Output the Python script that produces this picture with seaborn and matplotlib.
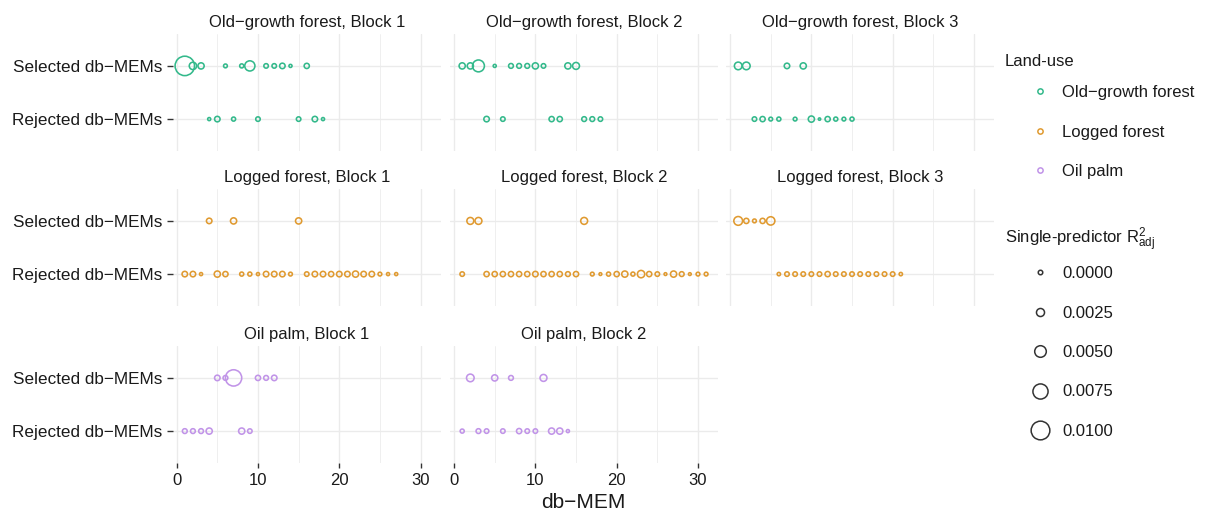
import matplotlib
matplotlib.use("Agg")
import matplotlib.pyplot as plt
from matplotlib.lines import Line2D
import numpy as np
import pandas as pd
import seaborn as sns

# ---- categories -------------------------------------------------------------
land_uses = ["Old−growth forest", "Logged forest", "Oil palm"]
land_colors = ["#33B98B", "#E09A30", "#C194E8"]
status_levels = ["Rejected db−MEMs", "Selected db−MEMs"]

# ---- db-MEM indices and single-predictor adjusted R2, per land-use block ----
# Old-growth forest, Block 1
og1_sel_mem = [1, 2, 3, 6, 8, 9, 11, 12, 13, 14, 16]
og1_sel_r2 = [0.0105, 0.0020, 0.0012, -0.0005, -0.0003, 0.0040, 0.0000, 0.0000, 0.0007, -0.0010, 0.0005]
og1_rej_mem = [4, 5, 7, 10, 15, 17, 18]
og1_rej_r2 = [-0.0010, 0.0007, -0.0003, 0.0000, 0.0000, 0.0007, -0.0010]

# Old-growth forest, Block 2
og2_sel_mem = [1, 2, 3, 5, 7, 8, 9, 10, 11, 14, 15]
og2_sel_r2 = [0.0012, 0.0012, 0.0052, -0.0010, 0.0002, 0.0002, 0.0002, 0.0012, 0.0000, 0.0012, 0.0017]
og2_rej_mem = [4, 6, 12, 13, 16, 17, 18]
og2_rej_r2 = [0.0007, 0.0000, 0.0005, 0.0005, 0.0002, 0.0002, 0.0000]

# Old-growth forest, Block 3
og3_sel_mem = [1, 2, 7, 9]
og3_sel_r2 = [0.0022, 0.0022, 0.0007, 0.0012]
og3_rej_mem = [3, 4, 5, 6, 8, 10, 11, 12, 13, 14, 15]
og3_rej_r2 = [0.0000, 0.0005, -0.0005, -0.0003, -0.0005, 0.0012, -0.0015, 0.0005, -0.0003, -0.0005, -0.0003]

# Logged forest, Block 1
lf1_sel_mem = [4, 7, 15]
lf1_sel_r2 = [0.0007, 0.0012, 0.0012]
lf1_rej_mem = [1, 2, 3, 5, 6, 8, 9, 10, 11, 12, 13, 14, 16, 17, 18, 19, 20, 21, 22, 23, 24, 25, 26, 27]
lf1_rej_r2 = [0.0007, 0.0007, -0.0010, 0.0012, 0.0005, -0.0003, -0.0003, -0.0010, 0.0007, 0.0007,
              0.0007, -0.0005, 0.0000, 0.0007, 0.0007, 0.0005, 0.0007, 0.0007, 0.0012, 0.0007,
              0.0007, -0.0005, -0.0010, -0.0010]

# Logged forest, Block 2
lf2_sel_mem = [2, 3, 16]
lf2_sel_r2 = [0.0017, 0.0017, 0.0017]
lf2_rej_mem = [1, 4, 5, 6, 7, 8, 9, 10, 11, 12, 13, 14, 15, 17, 18, 19, 20, 21, 22, 23, 24, 25, 26, 27, 28, 29, 30, 31]
lf2_rej_r2 = [0.0000, 0.0005, 0.0005, 0.0005, 0.0005, 0.0005, 0.0005, 0.0007, 0.0005, 0.0005,
              0.0005, 0.0002, 0.0005, -0.0005, -0.0012, -0.0003, 0.0005, 0.0012, -0.0003, 0.0020,
              0.0005, 0.0000, -0.0012, 0.0012, 0.0002, -0.0012, -0.0005, -0.0005]

# Logged forest, Block 3
lf3_sel_mem = [1, 2, 3, 4, 5]
lf3_sel_r2 = [0.0030, 0.0005, -0.0005, 0.0005, 0.0027]
lf3_rej_mem = [6, 7, 8, 9, 10, 11, 12, 13, 14, 15, 16, 17, 18, 19, 20, 21]
lf3_rej_r2 = [-0.0008, 0.0000, 0.0000, 0.0000, 0.0000, 0.0000, 0.0005, 0.0000, 0.0000, 0.0000,
              0.0000, 0.0000, 0.0000, 0.0000, 0.0000, -0.0008]

# Oil palm, Block 1
op1_sel_mem = [5, 6, 7, 10, 11, 12]
op1_sel_r2 = [0.0007, 0.0002, 0.0083, 0.0005, 0.0002, 0.0007]
op1_rej_mem = [1, 2, 3, 4, 8, 9]
op1_rej_r2 = [0.0002, 0.0002, 0.0002, 0.0012, 0.0012, 0.0000]

# Oil palm, Block 2
op2_sel_mem = [2, 5, 7, 11]
op2_sel_r2 = [0.0022, 0.0012, 0.0002, 0.0017]
op2_rej_mem = [1, 3, 4, 6, 8, 9, 10, 12, 13, 14]
op2_rej_r2 = [-0.0003, 0.0002, 0.0000, 0.0000, 0.0005, 0.0000, 0.0000, 0.0012, 0.0012, -0.0010]

# size legend breaks
size_breaks = [0.0000, 0.0025, 0.0050, 0.0075, 0.0100]
size_labels = ["0.0000", "0.0025", "0.0050", "0.0075", "0.0100"]

panels = [
    (land_uses[0], 1, og1_sel_mem, og1_sel_r2, og1_rej_mem, og1_rej_r2),
    (land_uses[0], 2, og2_sel_mem, og2_sel_r2, og2_rej_mem, og2_rej_r2),
    (land_uses[0], 3, og3_sel_mem, og3_sel_r2, og3_rej_mem, og3_rej_r2),
    (land_uses[1], 1, lf1_sel_mem, lf1_sel_r2, lf1_rej_mem, lf1_rej_r2),
    (land_uses[1], 2, lf2_sel_mem, lf2_sel_r2, lf2_rej_mem, lf2_rej_r2),
    (land_uses[1], 3, lf3_sel_mem, lf3_sel_r2, lf3_rej_mem, lf3_rej_r2),
    (land_uses[2], 1, op1_sel_mem, op1_sel_r2, op1_rej_mem, op1_rej_r2),
    (land_uses[2], 2, op2_sel_mem, op2_sel_r2, op2_rej_mem, op2_rej_r2),
]

rows = []
for lu, blk, smem, sr2, rmem, rr2 in panels:
    title = f"{lu}, Block {blk}"
    for m, r in zip(smem, sr2):
        rows.append((title, lu, status_levels[1], m, r))
    for m, r in zip(rmem, rr2):
        rows.append((title, lu, status_levels[0], m, r))
df = pd.DataFrame(rows, columns=["panel", "land_use", "status", "mem", "r2"])
df["status"] = pd.Categorical(df["status"], categories=status_levels)

# ---- styling -----------------------------------------------------------------
sns.set_theme(style="white")
plt.rcParams["font.family"] = ["Liberation Sans", "DejaVu Sans"]
plt.rcParams["mathtext.fontset"] = "custom"
plt.rcParams["mathtext.rm"] = "Liberation Sans"

W, H = 1207, 515
fig = plt.figure(figsize=(W / 100, H / 100), dpi=100)

PT = 0.72  # points per pixel at 100 dpi
STROKE = 1.15


def marker_diam_px(r2):
    """Circle diameter (pixels) for an adjusted R2 value."""
    return 4.5 + 1420.0 * r2


size_map = {v: (marker_diam_px(v) * PT) ** 2 for v in df["r2"].unique()}
palette = dict(zip(land_uses, land_colors))
text_col = "#1a1a1a"
grid_col = "#EBEBEB"

col_left = [172.6, 450.0, 726.0]
row_top = [34.0, 189.0, 346.0]
pw, ph = 268.3, 117.0

for i, (lu, blk, *_rest) in enumerate(panels):
    r, c = divmod(i, 3)
    l, t = col_left[c], row_top[r]
    ax = fig.add_axes([l / W, 1 - (t + ph) / H, pw / W, ph / H])
    title = f"{lu}, Block {blk}"
    sub = df[df["panel"] == title]
    sns.scatterplot(data=sub, x="mem", y="status", hue="land_use", hue_order=land_uses,
                    palette=palette, size="r2", sizes=size_map, legend=False,
                    linewidth=STROKE, ax=ax, zorder=3)
    for coll in ax.collections:
        fc = coll.get_facecolors()
        coll.set_edgecolors(fc)
        coll.set_facecolors("none")
        coll.set_linewidths(STROKE)

    ax.set_xlim(-0.5, 32.5)
    ax.set_ylim(-0.6, 1.6)
    ax.set_xticks([0, 10, 20, 30])
    ax.set_xticks([5, 15, 25], minor=True)
    ax.set_yticks([0, 1])
    ax.set_yticklabels(status_levels)
    ax.grid(which="major", color=grid_col, linewidth=1.0)
    ax.grid(which="minor", axis="x", color=grid_col, linewidth=0.55)
    ax.set_axisbelow(True)
    for s in ax.spines.values():
        s.set_visible(False)
    ax.set_xlabel("")
    ax.set_ylabel("")
    ax.set_title(title, fontsize=12, pad=5, color=text_col)

    if c == 0:
        ax.tick_params(axis="y", which="major", left=True, length=4.2, width=1.0,
                       color="#333333", labelsize=12.3, labelcolor=text_col, pad=3.0)
    else:
        ax.tick_params(axis="y", left=False, labelleft=False)
    if r == 2:
        ax.tick_params(axis="x", which="major", bottom=True, length=3.6, width=1.0,
                       color="#333333", labelsize=12, labelcolor=text_col, pad=3.5)
    else:
        ax.tick_params(axis="x", which="major", bottom=False, labelbottom=False)
    ax.tick_params(axis="x", which="minor", bottom=False)

fig.text(583 / W, 1 - 503 / H, "db−MEM", ha="center", va="center",
         fontsize=15, color=text_col)

# ---- legends -----------------------------------------------------------------
fig.text(1005 / W, 1 - 62 / H, "Land-use", ha="left", va="center",
         fontsize=12, color=text_col)
lu_handles = [Line2D([], [], ls="none", marker="o", ms=3.8, mfc="none", mec=col, mew=1.1)
              for col in land_colors]
fig.legend(lu_handles, land_uses, loc="upper left", bbox_to_anchor=(1030 / W, 1 - 85 / H),
           frameon=False, fontsize=12, handlelength=1.2, handletextpad=0.75,
           labelspacing=1.47, borderpad=0, borderaxespad=0, labelcolor=text_col)

fig.text(1005 / W, 1 - 240 / H, "Single-predictor $\\mathregular{R^2_{adj}}$",
         ha="left", va="center", fontsize=12, color=text_col)
sz_handles = [Line2D([], [], ls="none", marker="o", ms=marker_diam_px(v) * PT,
                     mfc="none", mec="#333333", mew=1.1) for v in size_breaks]
fig.legend(sz_handles, size_labels, loc="upper left", bbox_to_anchor=(1030 / W, 1 - 266 / H),
           frameon=False, fontsize=12, handlelength=1.2, handletextpad=0.75,
           labelspacing=1.47, borderpad=0, borderaxespad=0, labelcolor=text_col)

fig.savefig("out.png", dpi=100)
